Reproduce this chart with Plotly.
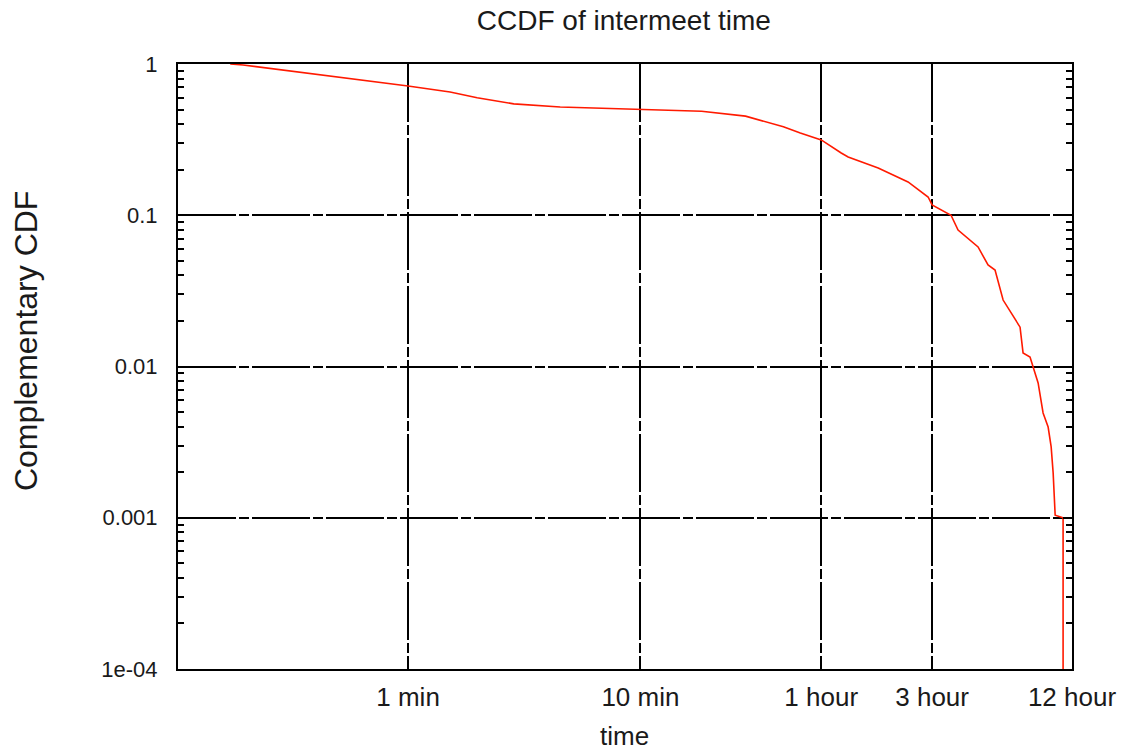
import math
import plotly.graph_objects as go

# Inter-meeting time (seconds) and complementary CDF
time_s = [10.3, 11.7, 60, 91, 119, 171, 271, 600, 1100, 1700, 2474, 2926, 3600,
          4389, 4700, 6330, 8510, 10380, 10800, 13030, 13970, 17030, 18800,
          20150, 21830, 25820, 26600, 28500, 30880, 32440, 34100, 35140,
          35840, 36560, 39550, 39550]
ccdf = [1.0, 0.985, 0.715, 0.653, 0.598, 0.545, 0.520, 0.504, 0.487, 0.452,
        0.385, 0.350, 0.315, 0.258, 0.243, 0.205, 0.166, 0.132, 0.117, 0.100,
        0.0799, 0.0617, 0.0469, 0.0434, 0.0275, 0.0182, 0.0123, 0.01156,
        0.00778, 0.00493, 0.00398, 0.00294, 0.00198, 0.00104, 0.001, 0.00005]

x_tickvals = [60, 600, 3600, 10800, 43200]
x_ticktext = ["1 min", "10 min", "1 hour", "3 hour", "12 hour"]
y_tickvals = [1, 0.1, 0.01, 0.001, 0.0001]
y_ticktext = ["1", "0.1", "0.01", "0.001", "1e-04"]

x_min, x_max = 6.14, 43200
y_min, y_max = 1e-4, 1

# log minor ticks between decades on the y axis
y_minor = [m * 10 ** k for k in range(-4, 0) for m in range(2, 10)]

FONT = "Liberation Sans, Arial, sans-serif"
TXT = "#1a1a1a"
GRID_DASH = "58px,3px,10px,3px"

fig = go.Figure()
fig.add_trace(go.Scatter(
    x=time_s, y=ccdf, mode="lines",
    line=dict(color="#ff1a00", width=1.6),
    showlegend=False,
))

axis_common = dict(
    showline=True, linecolor="black", linewidth=2, mirror="allticks",
    showgrid=True, gridcolor="black", gridwidth=1.5, griddash=GRID_DASH,
    ticks="inside", tickcolor="black", ticklen=9, tickwidth=1.5,
    zeroline=False, automargin=False,
)

fig.update_xaxes(
    type="log", range=[math.log10(x_min), math.log10(x_max)],
    tickmode="array", tickvals=x_tickvals, ticktext=x_ticktext,
    ticklabelstandoff=4,
    tickfont=dict(family=FONT, size=26, color=TXT),
    **axis_common,
)
fig.update_yaxes(
    type="log", range=[math.log10(y_min), math.log10(y_max)],
    tickmode="array", tickvals=y_tickvals, ticktext=y_ticktext,
    ticklabelstandoff=14,
    tickfont=dict(family=FONT, size=22, color=TXT),
    minor=dict(tickmode="array", tickvals=y_minor, ticks="inside", ticklen=6,
               tickwidth=1.5, tickcolor="black", showgrid=False),
    **axis_common,
)

# axis titles
fig.add_annotation(text="time", xref="paper", yref="paper",
                   x=0.499, y=-0.111, xanchor="center", yanchor="middle",
                   showarrow=False, font=dict(family=FONT, size=26, color=TXT))
fig.add_annotation(text="Complementary CDF", xref="paper", yref="paper",
                   x=-0.170, y=0.542, xanchor="center", yanchor="middle",
                   textangle=-90, showarrow=False,
                   font=dict(family=FONT, size=32, color=TXT))

fig.update_layout(
    width=1124, height=751,
    margin=dict(l=178, r=52, t=64, b=82, autoexpand=False),
    paper_bgcolor="white", plot_bgcolor="white",
    title=dict(text="CCDF of intermeet time", x=0.555, xanchor="center",
               y=1 - 20 / 751, yanchor="middle", yref="container",
               font=dict(family=FONT, size=28, color=TXT)),
)

fig.write_html("out.html")
